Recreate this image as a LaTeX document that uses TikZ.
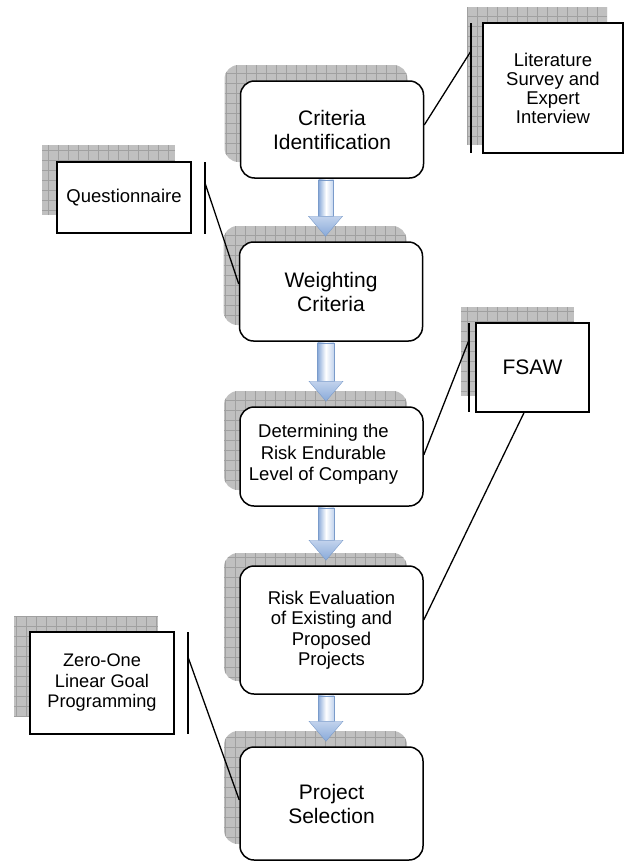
\documentclass[tikz,border=0pt]{standalone}
\usepackage{fontspec}
\setmainfont{Liberation Sans}
\usetikzlibrary{calc}
\definecolor{shfill}{HTML}{C0C0C0}
\definecolor{shgrid}{HTML}{A0A0A0}
\definecolor{arrA}{HTML}{88A9D9}
\definecolor{arrB}{HTML}{C2D3ED}
\definecolor{arrEdge}{HTML}{7A9BCA}
\newcommand\flowArrowMk[2]{%
  \path[left color=arrA, right color=arrB, middle color=white, draw=arrEdge, line width=0.4pt]
    ([xshift=-13.5pt,yshift=-1pt]#1.south) rectangle ([xshift=2.5pt,yshift=25pt]#2.north);
  \path[top color=arrB, bottom color=arrA, draw=arrEdge, line width=0.4pt]
    ([xshift=-22.5pt,yshift=25pt]#2.north) -- ([xshift=11.5pt,yshift=25pt]#2.north)
    -- ([xshift=-5.5pt,yshift=5pt]#2.north) -- cycle;}
\begin{document}
\begin{tikzpicture}[x=1pt,y=-1pt,
  shadowbox/.style={fill=shfill, draw=none, inner sep=0pt,
    path picture={\draw[shgrid, line width=0.5pt]
      (path picture bounding box.south west) grid[step=10pt] (path picture bounding box.north east);}},
  mainshadow/.style={shadowbox, rounded corners=14pt, minimum width=183pt, minimum height=#1},
  mainbox/.style={draw, fill=white, line width=1.5pt, rounded corners=14pt,
    minimum width=183pt, minimum height=#1, align=center, inner sep=0pt,
    font=\fontsize{21}{24}\selectfont},
  sidebox/.style={draw, fill=white, line width=1.5pt, inner sep=0pt, align=center},
  boxtext/.style={align=center, inner sep=0pt},
  link/.style={line width=1.3pt},
  bar/.style={line width=1.5pt}]
\useasboundingbox (0,0) rectangle (624,862);

% shadows of main boxes
\node[mainshadow=97pt]  (s1) at (316,113.5) {};
\node[mainshadow=99pt]  (s2) at (315,275.5) {};
\node[mainshadow=99pt]  (s3) at (315.5,440.5) {};
\node[mainshadow=128pt] (s4) at (315.5,617) {};
\node[mainshadow=113pt] (s5) at (315.5,787.5) {};

% shadows of side boxes
\node[shadowbox, minimum width=140pt, minimum height=138pt] (slit) at (537,76) {};
\node[shadowbox, minimum width=133pt, minimum height=70pt] (sque) at (108.5,180) {};
\node[shadowbox, minimum width=113pt, minimum height=89pt] (sfsa) at (517.5,351.5) {};
\node[shadowbox, minimum width=144pt, minimum height=101pt] (szer) at (86,666.5) {};

% main boxes
\node[mainbox=97pt]  (b1) at (332,129.5) {Criteria\\Identification};
\node[mainbox=99pt]  (b2) at (331,291.5) {Weighting\\Criteria};
\node[mainbox=99pt] (b3) at (331.5,456.5) {};
\node[boxtext, font=\fontsize{18.5}{21.5}\selectfont] (b3t) at (323.5,454.5)
  {Determining the\\Risk Endurable\\Level of Company};
\node[mainbox=128pt, font=\fontsize{18.5}{20.5}\selectfont] (b4) at (331.5,630)
  {Risk Evaluation\\of Existing and\\Proposed\\Projects};
\node[mainbox=113pt] (b5) at (331.5,803.5) {Project\\Selection};

% side boxes
\node[sidebox, minimum width=140pt, minimum height=130pt, font=\fontsize{18.5}{19}\selectfont]
  (lit) at (553,88) {Literature\\Survey and\\Expert\\Interview};
\node[sidebox, minimum width=134pt, minimum height=71pt, font=\fontsize{18.5}{20}\selectfont]
  (que) at (124,197.5) {Questionnaire};
\node[sidebox, minimum width=113pt, minimum height=89pt, font=\fontsize{21}{24}\selectfont]
  (fsa) at (532.5,367.5) {FSAW};
\node[sidebox, minimum width=144pt, minimum height=102pt, font=\fontsize{18.2}{20.5}\selectfont]
  (zer) at (102,683) {Zero-One\\Linear Goal\\Programming};

% bars and connectors
\coordinate (litT) at (471,23);  \coordinate (litB) at (471,153);  \coordinate (litJ) at (471,51);
\coordinate (queT) at (205,162); \coordinate (queB) at (205,234);  \coordinate (queJ) at (205,183);
\coordinate (fsaT) at (469,323); \coordinate (fsaB) at (469,412);  \coordinate (fsaJ) at (469,340);
\coordinate (zerT) at (188,632); \coordinate (zerB) at (188,734);  \coordinate (zerJ) at (188,657);
\draw[bar] (litT) -- (litB);
\draw[bar] (queT) -- (queB);
\draw[bar] (fsaT) -- (fsaB);
\draw[bar] (zerT) -- (zerB);
\draw[link] (litJ) -- ([yshift=4.5pt]b1.east);
\draw[link] (queJ) -- ([yshift=7.5pt]b2.west);
\draw[link] (fsaJ) -- ([yshift=1.5pt]b3.east);
\draw[link] ([xshift=-8.5pt]fsa.south) -- ([yshift=10pt]b4.east);
\draw[link] (zerJ) -- ([yshift=3.5pt]b5.west);

% block arrows
\flowArrowMk{b1}{b2}
\flowArrowMk{b2}{b3}
\flowArrowMk{b3}{b4}
\flowArrowMk{b4}{b5}
\end{tikzpicture}
\end{document}
